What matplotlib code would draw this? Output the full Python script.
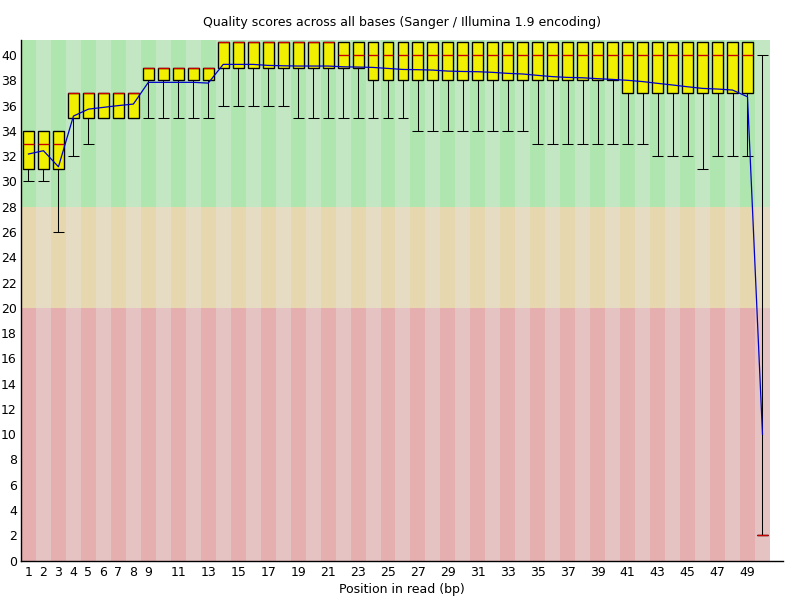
import matplotlib
matplotlib.use("Agg")
import matplotlib.pyplot as plt
import numpy as np

# per-base quality stats (positions 1..50)
positions = list(range(1, 51))
p90 = [34, 34, 34, 37, 37, 37, 37, 37, 39, 39, 39, 39, 39] + [41] * 36 + [40]
q3 = [34, 34, 34, 37, 37, 37, 37, 37, 39, 39, 39, 39, 39] + [41] * 36 + [2]
median = [33, 33, 33, 37, 37, 37, 37, 37, 39, 39, 39, 39, 39] + [41] * 8 + [40] * 28 + [2]
q1 = [31, 31, 31, 35, 35, 35, 35, 35, 38, 38, 38, 38, 38] + [39] * 10 + [38] * 17 + [37] * 9 + [2]
p10 = [30, 30, 26, 32, 33, 35, 35, 35, 35, 35, 35, 35, 35,
       36, 36, 36, 36, 36, 35, 35, 35, 35, 35, 35, 35, 35,
       34, 34, 34, 34, 34, 34, 34, 34,
       33, 33, 33, 33, 33, 33, 33, 33,
       32, 32, 32, 31, 32, 32, 32, 2]
mean = [32.17, 32.43, 31.16, 35.17, 35.72, 35.86, 36.0, 36.12, 37.84, 37.84,
        37.84, 37.84, 37.78, 39.26, 39.26, 39.26, 39.18, 39.15, 39.13, 39.13,
        39.13, 39.07, 39.05, 39.02, 38.94, 38.86, 38.84, 38.81, 38.73, 38.7,
        38.68, 38.63, 38.55, 38.5, 38.39, 38.29, 38.23, 38.2, 38.13, 38.07,
        38.0, 37.9, 37.76, 37.63, 37.49, 37.36, 37.31, 37.23, 36.7, 10.0]

xtick_pos = [1, 2, 3, 4, 5, 6, 7, 8, 9] + list(range(11, 50, 2))
ytick_pos = list(range(0, 41, 2))

zones = [(28, 41.2, (195/255, 230/255, 195/255), (175/255, 230/255, 175/255)),
         (20, 28, (230/255, 220/255, 195/255), (230/255, 215/255, 175/255)),
         (0, 20, (230/255, 195/255, 195/255), (230/255, 175/255, 175/255))]


def main():
    fig = plt.figure(figsize=(8, 6), dpi=100)
    ax = fig.add_axes([21 / 800, 39.4 / 600, 762 / 800, 520.6 / 600])
    pos = np.array(positions)

    # striped background
    for lo, hi, light, dark in zones:
        cols = [dark if p % 2 == 1 else light for p in positions]
        ax.bar(pos, hi - lo, bottom=lo, width=1.0, color=cols, linewidth=0, zorder=0)

    w = 0.73
    lw = 0.75
    # whiskers
    ax.vlines(pos, np.array(q3), np.array(p90), color='black', lw=lw, zorder=2)
    ax.vlines(pos, np.array(p10), np.array(q1), color='black', lw=lw, zorder=2)
    ax.hlines(p90, pos - w / 2, pos + w / 2, color='black', lw=lw, zorder=2)
    ax.hlines(p10, pos - w / 2, pos + w / 2, color='black', lw=lw, zorder=2)
    # boxes
    ax.bar(pos, np.array(q3) - np.array(q1), bottom=q1, width=w,
           color=(240/255, 240/255, 0), edgecolor='black', linewidth=lw * 1.3, zorder=3)
    # medians
    ax.hlines(median, pos - w / 2, pos + w / 2, color=(200/255, 0, 0), lw=lw * 1.3, zorder=4)
    # mean line
    ax.plot(pos, mean, color=(0, 0, 200/255), lw=0.9, zorder=5)

    ax.set_xlim(0.5, 51.37)
    ax.set_ylim(0, 41.19)
    ax.set_xticks(xtick_pos)
    ax.set_xticklabels([str(p) for p in xtick_pos])
    ax.set_yticks(ytick_pos)
    ax.set_yticklabels([str(v) for v in ytick_pos])
    ax.tick_params(length=0, labelsize=9, pad=3)
    ax.tick_params(axis='x', pad=4)
    for s in ['top', 'right']:
        ax.spines[s].set_visible(False)
    for s in ['left', 'bottom']:
        ax.spines[s].set_linewidth(1.0)
    ax.set_title('Quality scores across all bases (Sanger / Illumina 1.9 encoding)',
                 fontsize=9, pad=10)
    ax.set_xlabel('Position in read (bp)', fontsize=9, labelpad=3)

    fig.savefig('out.png', dpi=100)
    return 0


if __name__ == '__main__':
    main()
